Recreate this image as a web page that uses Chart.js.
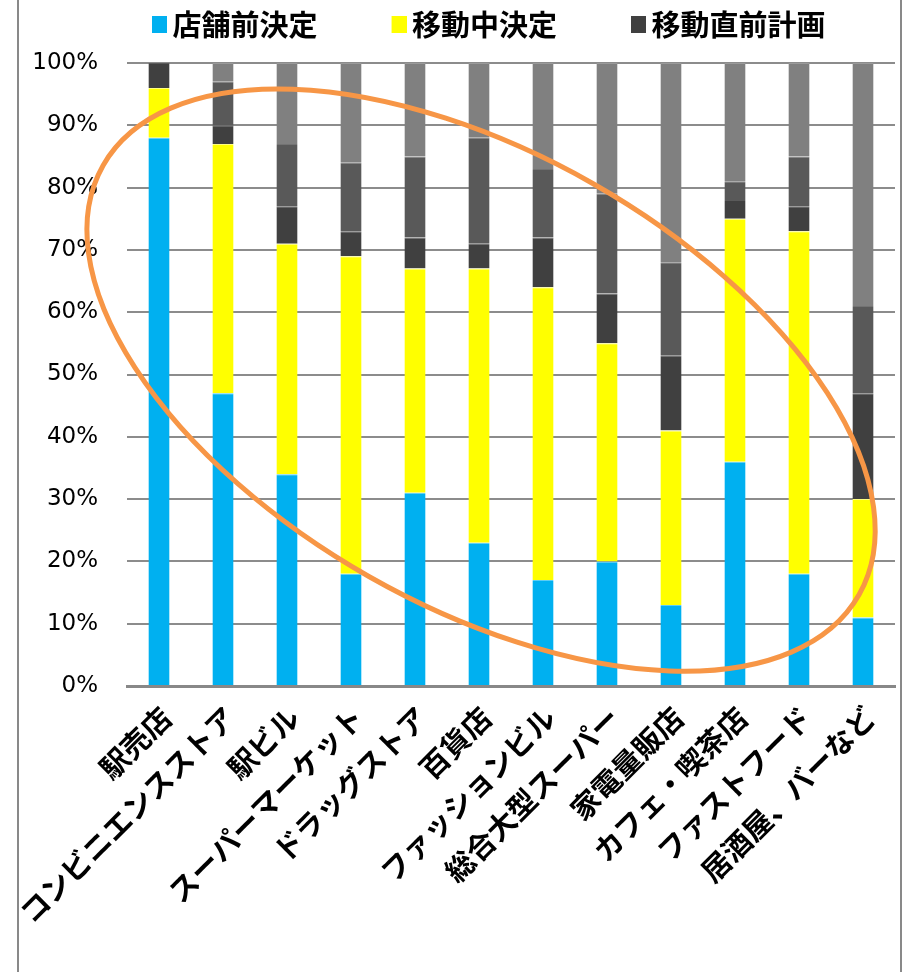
<!DOCTYPE html>
<html lang="ja">
<head>
<meta charset="utf-8">
<title>購買決定のタイミング（業態別）</title>
<script src="https://cdn.jsdelivr.net/npm/chart.js@4.4.1/dist/chart.umd.min.js"></script>
<style>
  html, body { margin: 0; padding: 0; background: #ffffff; }
  #wrap { position: relative; width: 904px; height: 972px; }
  #frame {
    position: absolute; left: 17px; top: 0; width: 881px; height: 972px;
    border-left: 2px solid #898989; border-right: 2px solid #898989;
    pointer-events: none;
  }
  canvas { display: block; }
</style>
</head>
<body>
<div id="wrap">
  <canvas id="chart" width="904" height="972"></canvas>
  <div id="frame"></div>
</div>
<script>
// 業態（横軸）
const categories = [
  '駅売店', 'コンビニエンスストア', '駅ビル', 'スーパーマーケット', 'ドラッグストア', '百貨店',
  'ファッションビル', '総合大型スーパー', '家電量販店', 'カフェ・喫茶店', 'ファストフード', '居酒屋、バーなど'
];

// 系列名（凡例に出すのは先頭の3系列）
const seriesNames = ['店舗前決定', '移動中決定', '移動直前計画', '前日以前計画', 'その他'];

// 構成比（%）
const decidedAtStore    = [88, 47, 34, 18, 31, 23, 17, 20, 13, 36, 18, 11];
const decidedOnTheWay   = [ 8, 40, 37, 51, 36, 44, 47, 35, 28, 39, 55, 19];
const plannedJustBefore = [ 4,  3,  6,  4,  5,  4,  8,  8, 12,  3,  4, 17];
const plannedEarlier    = [ 0,  7, 10, 11, 13, 17, 11, 16, 15,  3,  8, 14];
const otherTiming       = [ 0,  3, 13, 16, 15, 12, 17, 21, 32, 19, 15, 39];

// 縦軸の目盛ラベル
const percentTicks = ['0%', '10%', '20%', '30%', '40%', '50%', '60%', '70%', '80%', '90%', '100%'];

const seriesValues = [decidedAtStore, decidedOnTheWay, plannedJustBefore, plannedEarlier, otherTiming];
const seriesColors = ['#00B0F0', '#FFFF00', '#404040', '#595959', '#808080'];
// 各区分の上端に引く細い明色の区切り線
const seriesEdges  = ['#5ccdf5', '#ffff80', '#5a5a5a', '#737373', '#9a9a9a'];

// 凡例：色見本の枠幅と、文字側へはみ出させる量
const LEGEND_FONT = 29;
const LEGEND_PAD = 10;
const SWATCH_SLOT = 70;
const SWATCH_OVERHANG = 9;
function legendSwatch(color) {
  const c = document.createElement('canvas');
  c.width = SWATCH_SLOT + 2 * SWATCH_OVERHANG;
  c.height = 17;
  const g = c.getContext('2d');
  g.fillStyle = color;
  g.fillRect(c.width - 15, 0, 15, 17);
  return c;
}

// 凡例ブロックを上端・左寄せ位置へ置き直す
const legendPlacement = {
  id: 'legendPlacement',
  afterLayout(chart) {
    const lg = chart.legend;
    if (!lg) return;
    const left = 78;
    lg.left = left;
    lg.right = left + lg.width;
    lg.bottom = lg.height;
    lg.top = 0;
  }
};

// 注目範囲を囲む楕円（プロット領域に対する比率で配置）
const ellipseNote = {
  id: 'ellipseNote',
  afterDraw(chart) {
    const { ctx, chartArea: a } = chart;
    const w = a.right - a.left;
    const h = a.bottom - a.top;
    ctx.save();
    ctx.beginPath();
    ctx.ellipse(a.left + 0.461 * w, a.top + 0.509 * h, 0.566 * w, 0.363 * h,
                29.6 * Math.PI / 180, 0, Math.PI * 2);
    ctx.strokeStyle = '#F79646';
    ctx.lineWidth = 5;
    ctx.stroke();
    ctx.restore();
  }
};

new Chart(document.getElementById('chart'), {
  type: 'bar',
  data: {
    labels: categories,
    datasets: seriesValues.map((values, i) => ({
      label: seriesNames[i],
      data: values,
      backgroundColor: seriesColors[i],
      borderColor: seriesEdges[i],
      borderWidth: { top: 1, right: 0, bottom: 0, left: 0 },
      borderSkipped: false,
      barPercentage: 0.33,
      categoryPercentage: 1.0
    }))
  },
  options: {
    responsive: false,
    animation: false,
    devicePixelRatio: 1,
    layout: { padding: { left: 0, right: 9, top: 0, bottom: 0 } },
    plugins: {
      tooltip: { enabled: false },
      legend: {
        position: 'top',
        align: 'start',
        labels: {
          usePointStyle: true,
          pointStyleWidth: SWATCH_SLOT,
          padding: LEGEND_PAD,
          color: '#000000',
          font: { family: '"Noto Sans CJK JP"', size: LEGEND_FONT, weight: 'bold' },
          generateLabels(chart) {
            return Chart.defaults.plugins.legend.labels.generateLabels(chart)
              .filter(item => item.datasetIndex < 3)
              .map(item => Object.assign(item, { pointStyle: legendSwatch(seriesColors[item.datasetIndex]) }));
          }
        }
      }
    },
    scales: {
      x: {
        stacked: true,
        grid: { display: false, drawTicks: false },
        border: { display: true, color: '#888888', width: 3 },
        ticks: {
          autoSkip: false,
          minRotation: 45,
          maxRotation: 45,
          padding: 14,
          labelOffset: 7,
          color: '#000000',
          font: { family: '"Noto Sans CJK JP"', size: 29, weight: 'bold' }
        },
        afterFit(scale) { scale.height = 286; }
      },
      y: {
        stacked: true,
        min: 0,
        max: 100,
        ticks: {
          stepSize: 10,
          padding: 29,
          color: '#000000',
          font: { family: '"DejaVu Sans"', size: 23 },
          callback: (value, index) => percentTicks[index]
        },
        grid: { color: '#8c8c8c', lineWidth: 2, drawTicks: false },
        border: { display: false },
        afterFit(scale) { scale.width = 127; scale.paddingTop = 63; }
      }
    }
  },
  plugins: [legendPlacement, ellipseNote]
});
</script>
</body>
</html>
